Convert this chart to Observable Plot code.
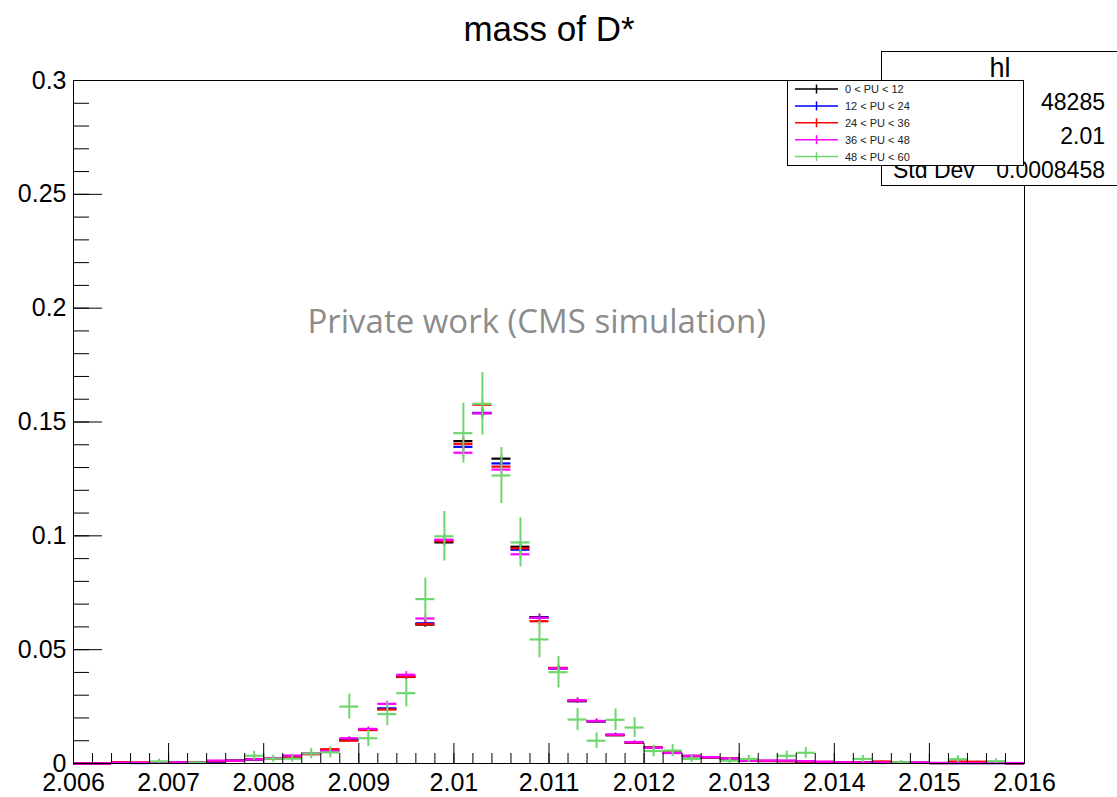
<!DOCTYPE html>
<html><head><meta charset="utf-8">
<script src="https://cdn.jsdelivr.net/npm/d3@7"></script>
<script src="https://cdn.jsdelivr.net/npm/@observablehq/plot@0.6"></script>
<style>body{margin:0;background:#fff} svg{display:block}</style>
</head><body><div id="chart"></div>
<script>
// ---- data ----
const binCenters = [
  2.0061,2.0063,2.0065,2.0067,2.0069,2.0071,2.0073,2.0075,2.0077,2.0079,
  2.0081,2.0083,2.0085,2.0087,2.0089,2.0091,2.0093,2.0095,2.0097,2.0099,
  2.0101,2.0103,2.0105,2.0107,2.0109,2.0111,2.0113,2.0115,2.0117,2.0119,
  2.0121,2.0123,2.0125,2.0127,2.0129,2.0131,2.0133,2.0135,2.0137,2.0139,
  2.0141,2.0143,2.0145,2.0147,2.0149,2.0151,2.0153,2.0155,2.0157,2.0159];
const binWidth = 0.0002;
const seriesNames = ["0 < PU < 12","12 < PU < 24","24 < PU < 36","36 < PU < 48","48 < PU < 60"];
const seriesColors = ["#000000","#0000ff","#ff0000","#ff00ff","#6fd66f"];
const seriesEntries = [48285, 40000, 30000, 20000, 840];
const pu0_12 = [0,0,0.0003,0.0003,0.0004,0.0004,0.0004,0.0009,0.0012,0.0018,
  0.0022,0.0030,0.0042,0.0058,0.0103,0.0148,0.0240,0.0380,0.0610,0.0971,
  0.1416,0.1539,0.1339,0.0952,0.0643,0.0418,0.0274,0.0185,0.0124,0.0092,
  0.0070,0.0048,0.0032,0.0027,0.0021,0.0014,0.0011,0.0011,0.0009,0.0006,
  0.0005,0.0004,0.0004,0.0003,0.0003,0.0002,0.0002,0.0002,0.0002,0.0001];
const pu12_24 = [0,0,0.0003,0.0002,0.0004,0.0003,0.0004,0.0008,0.0013,0.0018,
  0.0022,0.0030,0.0042,0.0058,0.0104,0.0148,0.0242,0.0383,0.0616,0.0981,
  0.1391,0.1540,0.1318,0.0939,0.0640,0.0418,0.0274,0.0185,0.0126,0.0092,
  0.0070,0.0047,0.0033,0.0027,0.0021,0.0013,0.0011,0.0011,0.0009,0.0006,
  0.0005,0.0004,0.0004,0.0003,0.0003,0.0002,0.0002,0.0002,0.0002,0.0001];
const pu24_36 = [0,0,0.0005,0.0004,0.0003,0.0003,0.0005,0.0010,0.0012,0.0019,
  0.0021,0.0030,0.0041,0.0063,0.0100,0.0147,0.0237,0.0381,0.0612,0.0976,
  0.1404,0.1576,0.1304,0.0945,0.0625,0.0420,0.0276,0.0186,0.0125,0.0092,
  0.0071,0.0049,0.0033,0.0027,0.0023,0.0012,0.0011,0.0010,0.0008,0.0007,
  0.0005,0.0004,0.0009,0.0003,0.0003,0.0002,0.0009,0.0008,0.0007,0.0001];
const pu36_48 = [0,0,0.0003,0.0003,0.0004,0.0004,0.0004,0.0013,0.0012,0.0018,
  0.0024,0.0035,0.0045,0.0055,0.0111,0.0152,0.0262,0.0390,0.0637,0.0983,
  0.1365,0.1538,0.1291,0.0919,0.0640,0.0418,0.0278,0.0187,0.0127,0.0094,
  0.0069,0.0046,0.0034,0.0028,0.0022,0.0012,0.0013,0.0013,0.0010,0.0008,
  0.0005,0.0004,0.0004,0.0003,0.0004,0.0002,0.0002,0.0002,0.0002,0.0002];
const pu48_60 = [0,0,0,0,0.0009,0,0.0004,0,0,0.0034,
  0.0021,0.0021,0.0044,0.0049,0.0250,0.0111,0.0217,0.0309,0.0722,0.0998,
  0.1451,0.1580,0.1265,0.0971,0.0545,0.0401,0.0193,0.0100,0.0192,0.0158,
  0.0055,0.0057,0.0020,0,0.0012,0.0020,0,0.0034,0.0047,0,
  0,0.0020,0,0.0005,0,0,0.0019,0,0.0010,0];
const seriesValues = [pu0_12, pu12_24, pu24_36, pu36_48, pu48_60];
const xTickValues = [2.006,2.007,2.008,2.009,2.010,2.011,2.012,2.013,2.014,2.015,2.016];
const xTickLabels = ["2.006","2.007","2.008","2.009","2.01","2.011","2.012","2.013","2.014","2.015","2.016"];
const yTickValues = [0,0.05,0.1,0.15,0.2,0.25,0.3];
const yTickLabels = ["0","0.05","0.1","0.15","0.2","0.25","0.3"];
const xMinorTicks = d3.range(0, 51).map(i => 2.006 + i * 0.0002);
const yMinorTicks = d3.range(0, 31).map(i => i * 0.01);
const title = "mass of D*";
const watermark = "Private work (CMS simulation)";
const statsTitle = "hl";
const statsRows = [["Entries","48285"],["Mean","2.01"],["Std Dev","0.0008458"]];

// ---- build rows ----
const rowsBySeries = seriesNames.map((name, s) => {
  const vals = seriesValues[s];
  return binCenters.map((c, i) => {
    const v = vals[i];
    const err = Math.sqrt(v / seriesEntries[s]);
    return {series: name, xc: c, x0: c - binWidth / 2, x1: c + binWidth / 2, v, lo: Math.max(0, v - err), hi: v + err};
  }).filter(d => s < 4 || d.v > 0);
});

const font = "'Liberation Sans', Arial, Helvetica, sans-serif";
const marks = [];
rowsBySeries.forEach((rows, s) => {
  marks.push(Plot.ruleX(rows, {x: "xc", y1: "lo", y2: "hi", stroke: seriesColors[s], strokeWidth: s === 4 ? 2 : 1.5}));
  marks.push(Plot.ruleY(rows, {y: "v", x1: "x0", x2: "x1", stroke: seriesColors[s], strokeWidth: 2.2}));
});

const plot = Plot.plot({
  width: 1117, height: 797,
  marginLeft: 73, marginRight: 93, marginTop: 80, marginBottom: 34,
  style: {fontFamily: font, background: "white", color: "black"},
  x: {domain: [2.006, 2.016]},
  y: {domain: [0, 0.3]},
  marks: [
    Plot.text([watermark], {x: 2.01087, y: 0.1937, text: d => d, fontSize: 33, fill: "#8c8c8c", fontFamily: "'Open Sans', 'Noto Sans', sans-serif"}),
    ...marks,
    Plot.axisX(xMinorTicks, {anchor: "bottom", tickSize: -10, tickFormat: () => "", label: null, stroke: "black"}),
    Plot.axisX(xTickValues, {anchor: "bottom", tickSize: -20, tickPadding: 30, label: null, fontSize: 25,
      tickFormat: (d) => xTickLabels[xTickValues.indexOf(d)], stroke: "black"}),
    Plot.axisY(yMinorTicks, {anchor: "left", tickSize: -16, tickFormat: () => "", label: null, stroke: "black"}),
    Plot.axisY(yTickValues, {anchor: "left", tickSize: -29, tickPadding: 36, label: null, fontSize: 25,
      tickFormat: (d) => yTickLabels[yTickValues.indexOf(d)], stroke: "black"}),
    Plot.frame({stroke: "black"})
  ]
});
document.getElementById("chart").appendChild(plot);

const svg = d3.select(plot);
svg.append("text").attr("x", 549).attr("y", 41).attr("text-anchor", "middle")
  .attr("font-size", 35).attr("font-family", font).attr("fill", "black").text(title);

// stats box
const sb = svg.append("g");
sb.append("rect").attr("x", 881.5).attr("y", 51.5).attr("width", 245).attr("height", 134)
  .attr("fill", "white").attr("stroke", "black");
sb.append("text").attr("x", 1000).attr("y", 77).attr("text-anchor", "middle")
  .attr("font-size", 27).attr("font-family", font).text(statsTitle);
statsRows.forEach((r, i) => {
  const yb = 110 + i * 34;
  sb.append("text").attr("x", 893).attr("y", yb).attr("text-anchor", "start").attr("font-size", 23).attr("font-family", font).text(r[0]);
  sb.append("text").attr("x", 1105).attr("y", yb).attr("text-anchor", "end").attr("font-size", 23).attr("font-family", font).text(r[1]);
});

// legend
const lg = svg.append("g");
lg.append("rect").attr("x", 787.5).attr("y", 80.5).attr("width", 236).attr("height", 85)
  .attr("fill", "white").attr("stroke", "black");
seriesNames.forEach((n, i) => {
  const cy = 89 + i * 16.9;
  lg.append("line").attr("x1", 795).attr("x2", 838).attr("y1", cy).attr("y2", cy)
    .attr("stroke", seriesColors[i]).attr("stroke-width", 1.5);
  lg.append("line").attr("x1", 816.5).attr("x2", 816.5).attr("y1", cy - 4.5).attr("y2", cy + 4.5)
    .attr("stroke", seriesColors[i]).attr("stroke-width", 1.5);
  lg.append("text").attr("x", 845).attr("y", cy + 4).attr("text-anchor", "start").attr("font-size", 11).attr("font-family", font)
    .attr("fill", "#222").text(n);
});
</script>
</body></html>
